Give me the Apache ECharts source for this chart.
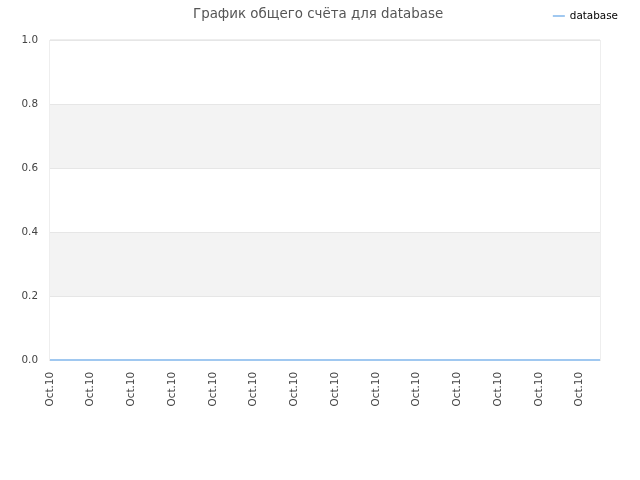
<!DOCTYPE html>
<html>
<head>
<meta charset="utf-8">
<script src="https://cdn.jsdelivr.net/npm/echarts@6/dist/echarts.min.js"></script>
<style>html,body{margin:0;padding:0;background:#fff}#c{width:640px;height:480px}</style>
</head>
<body>
<div id="c"></div>
<script>
const titleText = 'График общего счёта для database';
const seriesName = 'database';
const categories = ['Oct.10','Oct.10','Oct.10','Oct.10','Oct.10','Oct.10','Oct.10','Oct.10','Oct.10','Oct.10','Oct.10','Oct.10','Oct.10','Oct.10','Oct.10','Oct.10','Oct.10','Oct.10','Oct.10','Oct.10','Oct.10','Oct.10','Oct.10','Oct.10','Oct.10','Oct.10','Oct.10','Oct.10'];
const values = [0,0,0,0,0,0,0,0,0,0,0,0,0,0,0,0,0,0,0,0,0,0,0,0,0,0,0,0];
const yTicks = { min: 0, max: 1, interval: 0.2 };

const chart = echarts.init(document.getElementById('c'), null, {renderer:'canvas'});
chart.setOption({
  animation: false,
  textStyle: { fontFamily: 'DejaVu Sans' },
  title: {
    text: titleText, left: 188, top: 3,
    textStyle: { fontSize: 13.4, fontWeight: 'normal', color: '#555', fontFamily: 'DejaVu Sans' }
  },
  legend: {
    right: 17, top: 6, itemWidth: 12, itemHeight: 2, itemGap: 5,
    icon: 'rect',
    textStyle: { fontSize: 10.4, color: '#000', fontFamily: 'DejaVu Sans' },
    data: [seriesName]
  },
  grid: { left: 50, right: 40, top: 40, bottom: 120, show: true, borderColor: '#dddddd', borderWidth: 1, backgroundColor: 'transparent' },
  xAxis: {
    type: 'category', data: categories, boundaryGap: false,
    axisLine: { show: true, lineStyle: { color: '#cccccc' } },
    axisTick: { show: false },
    axisLabel: { rotate: 90, interval: 1, margin: 12, fontSize: 10.4, color: '#444', fontFamily: 'DejaVu Sans' },
    splitLine: { show: false }
  },
  yAxis: {
    type: 'value', min: yTicks.min, max: yTicks.max, interval: yTicks.interval,
    axisLine: { show: false }, axisTick: { show: false },
    axisLabel: { margin: 12, fontSize: 10.4, color: '#444', fontFamily: 'DejaVu Sans', formatter: v => v.toFixed(1) },
    splitLine: { show: true, lineStyle: { color: '#e6e6e6' } },
    splitArea: { show: true, areaStyle: { color: ['#ffffff', '#f3f3f3'] } }
  },
  series: [{
    name: seriesName, type: 'line', data: values,
    showSymbol: false, symbol: 'none',
    lineStyle: { color: '#a0c8f0', width: 2 },
    itemStyle: { color: '#a0c8f0' }
  }]
});
</script>
</body>
</html>
